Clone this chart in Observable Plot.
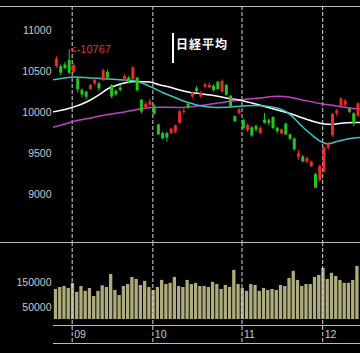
<!DOCTYPE html>
<html><head><meta charset="utf-8">
<script src="https://cdn.jsdelivr.net/npm/d3@7"></script>
<script src="https://cdn.jsdelivr.net/npm/@observablehq/plot@0.6"></script>
<style>
html,body{margin:0;padding:0;background:#000;}
#wrap{position:relative;width:360px;height:353px;background:#000;overflow:hidden;}
#price,#vol{position:absolute;left:0;}
#price{top:0;} #vol{top:242px;}
.hl{position:absolute;height:1px;background:#bcbcbc;}
#title{position:absolute;left:176px;top:35px;color:#fff;font:bold 12px "Noto Sans CJK JP";letter-spacing:1px;line-height:18px;white-space:nowrap;}
#bar{position:absolute;left:172px;top:33px;width:2px;height:30px;background:#fff;}
</style></head><body>
<div id="wrap">
  <div id="price"></div>
  <div id="vol"></div>
  <div class="hl" style="left:0;width:360px;top:6px"></div>
  <div class="hl" style="left:0;width:360px;top:242px"></div>
  <div class="hl" style="left:53px;width:307px;top:325px"></div>
  <div class="hl" style="left:53px;width:307px;top:343px"></div>
  <div id="bar"></div>
  <div id="title">日経平均</div>
</div>
<script>
const dates = ["08-26","08-27","08-28","08-31","09-01","09-02","09-03","09-04","09-07","09-08","09-09","09-10","09-11","09-14","09-15","09-16","09-17","09-18","09-24","09-25","09-28","09-29","09-30","10-01","10-02","10-05","10-06","10-07","10-08","10-09","10-13","10-14","10-15","10-16","10-19","10-20","10-21","10-22","10-23","10-26","10-27","10-28","10-29","10-30","11-02","11-04","11-05","11-06","11-09","11-10","11-11","11-12","11-13","11-16","11-17","11-18","11-19","11-20","11-24","11-25","11-26","11-27","11-30","12-01","12-02","12-03","12-04","12-07","12-08","12-09","12-10","12-11"];
const open = [10560,10560,10580,10635,10490,10410,10270,10250,10282,10350,10350,10390,10490,10330,10260,10300,10380,10420,10400,10420,10150,10060,10090,10070,9850,9745,9745,9745,9760,9870,10000,10100,10190,10290,10190,10310,10300,10320,10370,10250,10330,10200,9950,9990,9905,9780,9815,9830,9745,9910,9900,9940,9810,9745,9860,9730,9680,9460,9460,9395,9340,9245,9175,9275,9570,9720,9990,10080,10090,10040,9985,9960];
const high = [10680,10580,10610,10767,10600,10420,10290,10260,10340,10410,10370,10530,10520,10340,10280,10330,10460,10440,10560,10430,10160,10130,10160,10100,9860,9760,9760,9810,9850,10030,10050,10120,10250,10320,10260,10360,10360,10340,10380,10400,10340,10210,9960,10050,9920,9860,9830,9850,9830,9990,9920,9950,9820,9800,9870,9740,9690,9540,9480,9460,9410,9260,9360,9580,9640,9990,10040,10180,10160,10060,10000,10120];
const low = [10540,10450,10520,10460,10470,10240,10180,10160,10270,10330,10260,10380,10400,10170,10200,10250,10370,10350,10390,10250,9980,10040,10080,9970,9720,9670,9640,9730,9740,9860,9980,10040,10170,10240,10170,10290,10300,10250,10270,10240,10200,10060,9880,9970,9790,9760,9700,9760,9730,9860,9840,9800,9740,9730,9720,9660,9530,9420,9390,9380,9330,9076,9150,9260,9540,9700,9950,10070,10060,9990,9830,9940];
const close = [10650,10480,10535,10480,10575,10280,10215,10187,10330,10393,10290,10510,10420,10190,10215,10270,10440,10370,10545,10265,10009,10100,10133,9980,9731,9680,9690,9800,9840,10010,10016,10060,10238,10257,10236,10336,10333,10267,10282,10380,10212,10075,9891,10034,9802,9844,9717,9789,9808,9870,9871,9804,9770,9791,9729,9676,9549,9497,9401,9441,9400,9081,9345,9572,9608,9977,10022,10167,10140,10005,9862,10107];
const volume = [123000,131000,135000,127000,148000,111000,135000,115000,127000,94000,115000,138000,131000,184000,119000,98000,135000,143000,172000,164000,139000,156000,131000,119000,131000,160000,143000,148000,172000,135000,131000,160000,143000,148000,135000,135000,131000,152000,143000,123000,139000,131000,201000,143000,127000,115000,143000,139000,115000,127000,119000,123000,119000,139000,135000,168000,197000,160000,135000,143000,143000,172000,180000,209000,164000,189000,176000,160000,148000,148000,160000,217000];

// moving-average lines (day index, price)
const cyanIdx = [-1,2,4,8,12,16,19,21,23,25,27,29,31,33,35,38,41,44,47,50,52,54,56,58,60,62,63,64,66,68,70,72];
const cyanVal = [10400,10422,10434,10422,10410,10397,10379,10343,10294,10245,10203,10160,10124,10093,10075,10063,10069,10081,10087,10075,10057,10014,9929,9825,9734,9655,9631,9619,9649,9673,9691,9697];
const whiteIdx = [-1,2,4,6,8,10,12,14,16,19,22,24,27,29,31,34,37,40,43,46,49,52,55,58,61,63,65,67,70,72];
const whiteVal = [10008,10038,10069,10105,10154,10215,10288,10330,10361,10379,10373,10343,10306,10276,10251,10229,10209,10178,10154,10117,10075,10032,9990,9935,9886,9862,9856,9872,9880,9880];
const magIdx = [-1,2,4,8,12,16,19,21,24,29,33,38,43,48,52,55,58,62,66,69,72];
const magVal = [9819,9862,9892,9935,9977,10008,10038,10057,10066,10063,10081,10117,10154,10178,10200,10188,10154,10111,10081,10057,10044];

const priceTicks = [9000, 9500, 10000, 10500, 11000];
const volTicks = [50000, 150000];

const N = close.length;
const candles = d3.range(N).map(i => ({i, o: open[i], h: high[i], l: low[i], c: close[i], v: volume[i], up: close[i] >= open[i]}));
const months = d3.range(1, N).filter(i => dates[i].slice(0,2) !== dates[i-1].slice(0,2)).map(i => ({i, label: dates[i].slice(0,2)}));
const maxC = candles.reduce((a, b) => b.h > a.h ? b : a);
const ma = (idx, val) => idx.map((x, k) => ({x, y: val[k]}));

const UP = "#f02828", DOWN = "#22c822";
const xDom = [-0.7, N - 0.4];
const font = "'Liberation Sans', Arial, sans-serif";
const style = {background: "transparent", color: "#c8c8c8", fontFamily: font, fontSize: "10.5px"};

const price = Plot.plot({
  width: 360, height: 242,
  marginLeft: 53, marginRight: 0, marginTop: 6, marginBottom: 0,
  style,
  x: {domain: xDom, axis: null},
  y: {domain: [8419, 11292], axis: null},
  marks: [
    Plot.ruleX(months, {x: d => d.i - 0.3, stroke: "#d8d8d8", strokeDasharray: "4,2"}),
    Plot.line(ma(magIdx, magVal), {x: "x", y: "y", stroke: "#c83cc8", strokeWidth: 1.5, curve: "monotone-x", clip: true}),
    Plot.line(ma(whiteIdx, whiteVal), {x: "x", y: "y", stroke: "#ffffff", strokeWidth: 1.5, curve: "monotone-x", clip: true}),
    Plot.line(ma(cyanIdx, cyanVal), {x: "x", y: "y", stroke: "#3cc4c4", strokeWidth: 1.5, curve: "monotone-x", clip: true}),
    Plot.ruleX(candles, {x: "i", y1: "l", y2: "h", stroke: d => d.up ? UP : DOWN, strokeWidth: 1}),
    Plot.ruleX(candles, {x: "i", y1: "o", y2: "c", stroke: d => d.up ? UP : DOWN, strokeWidth: 3}),
    Plot.text([maxC], {x: "i", y: "h", text: d => "<-" + d.h, textAnchor: "start", dx: 1, fill: "#d83838", fontSize: 11}),
    Plot.text(priceTicks, {y: d => d, text: d => String(d), frameAnchor: "left", textAnchor: "end", dx: -2, fill: "#c8c8c8"})
  ]
});
document.getElementById("price").appendChild(price);

const vol = Plot.plot({
  width: 360, height: 111,
  marginLeft: 53, marginRight: 0, marginTop: 0, marginBottom: 34,
  style,
  x: {domain: xDom, axis: null},
  y: {domain: [0, 315000], axis: null},
  marks: [
    Plot.ruleX(candles, {x: "i", y1: 0, y2: "v", stroke: "#aeab7c", strokeWidth: 3.3, dx: -1}),
    Plot.ruleX(months, {x: d => d.i - 0.3, stroke: "#d8d8d8", strokeDasharray: "4,2", insetBottom: -24}),
    Plot.text(months, {x: d => d.i - 0.3, text: "label", frameAnchor: "bottom", dy: 18, dx: 2, textAnchor: "start", fill: "#c8c8c8"}),
    Plot.text(volTicks, {y: d => d, text: d => String(d), frameAnchor: "left", textAnchor: "end", dx: -2, fill: "#c8c8c8"})
  ]
});
document.getElementById("vol").appendChild(vol);
</script>
</body></html>
